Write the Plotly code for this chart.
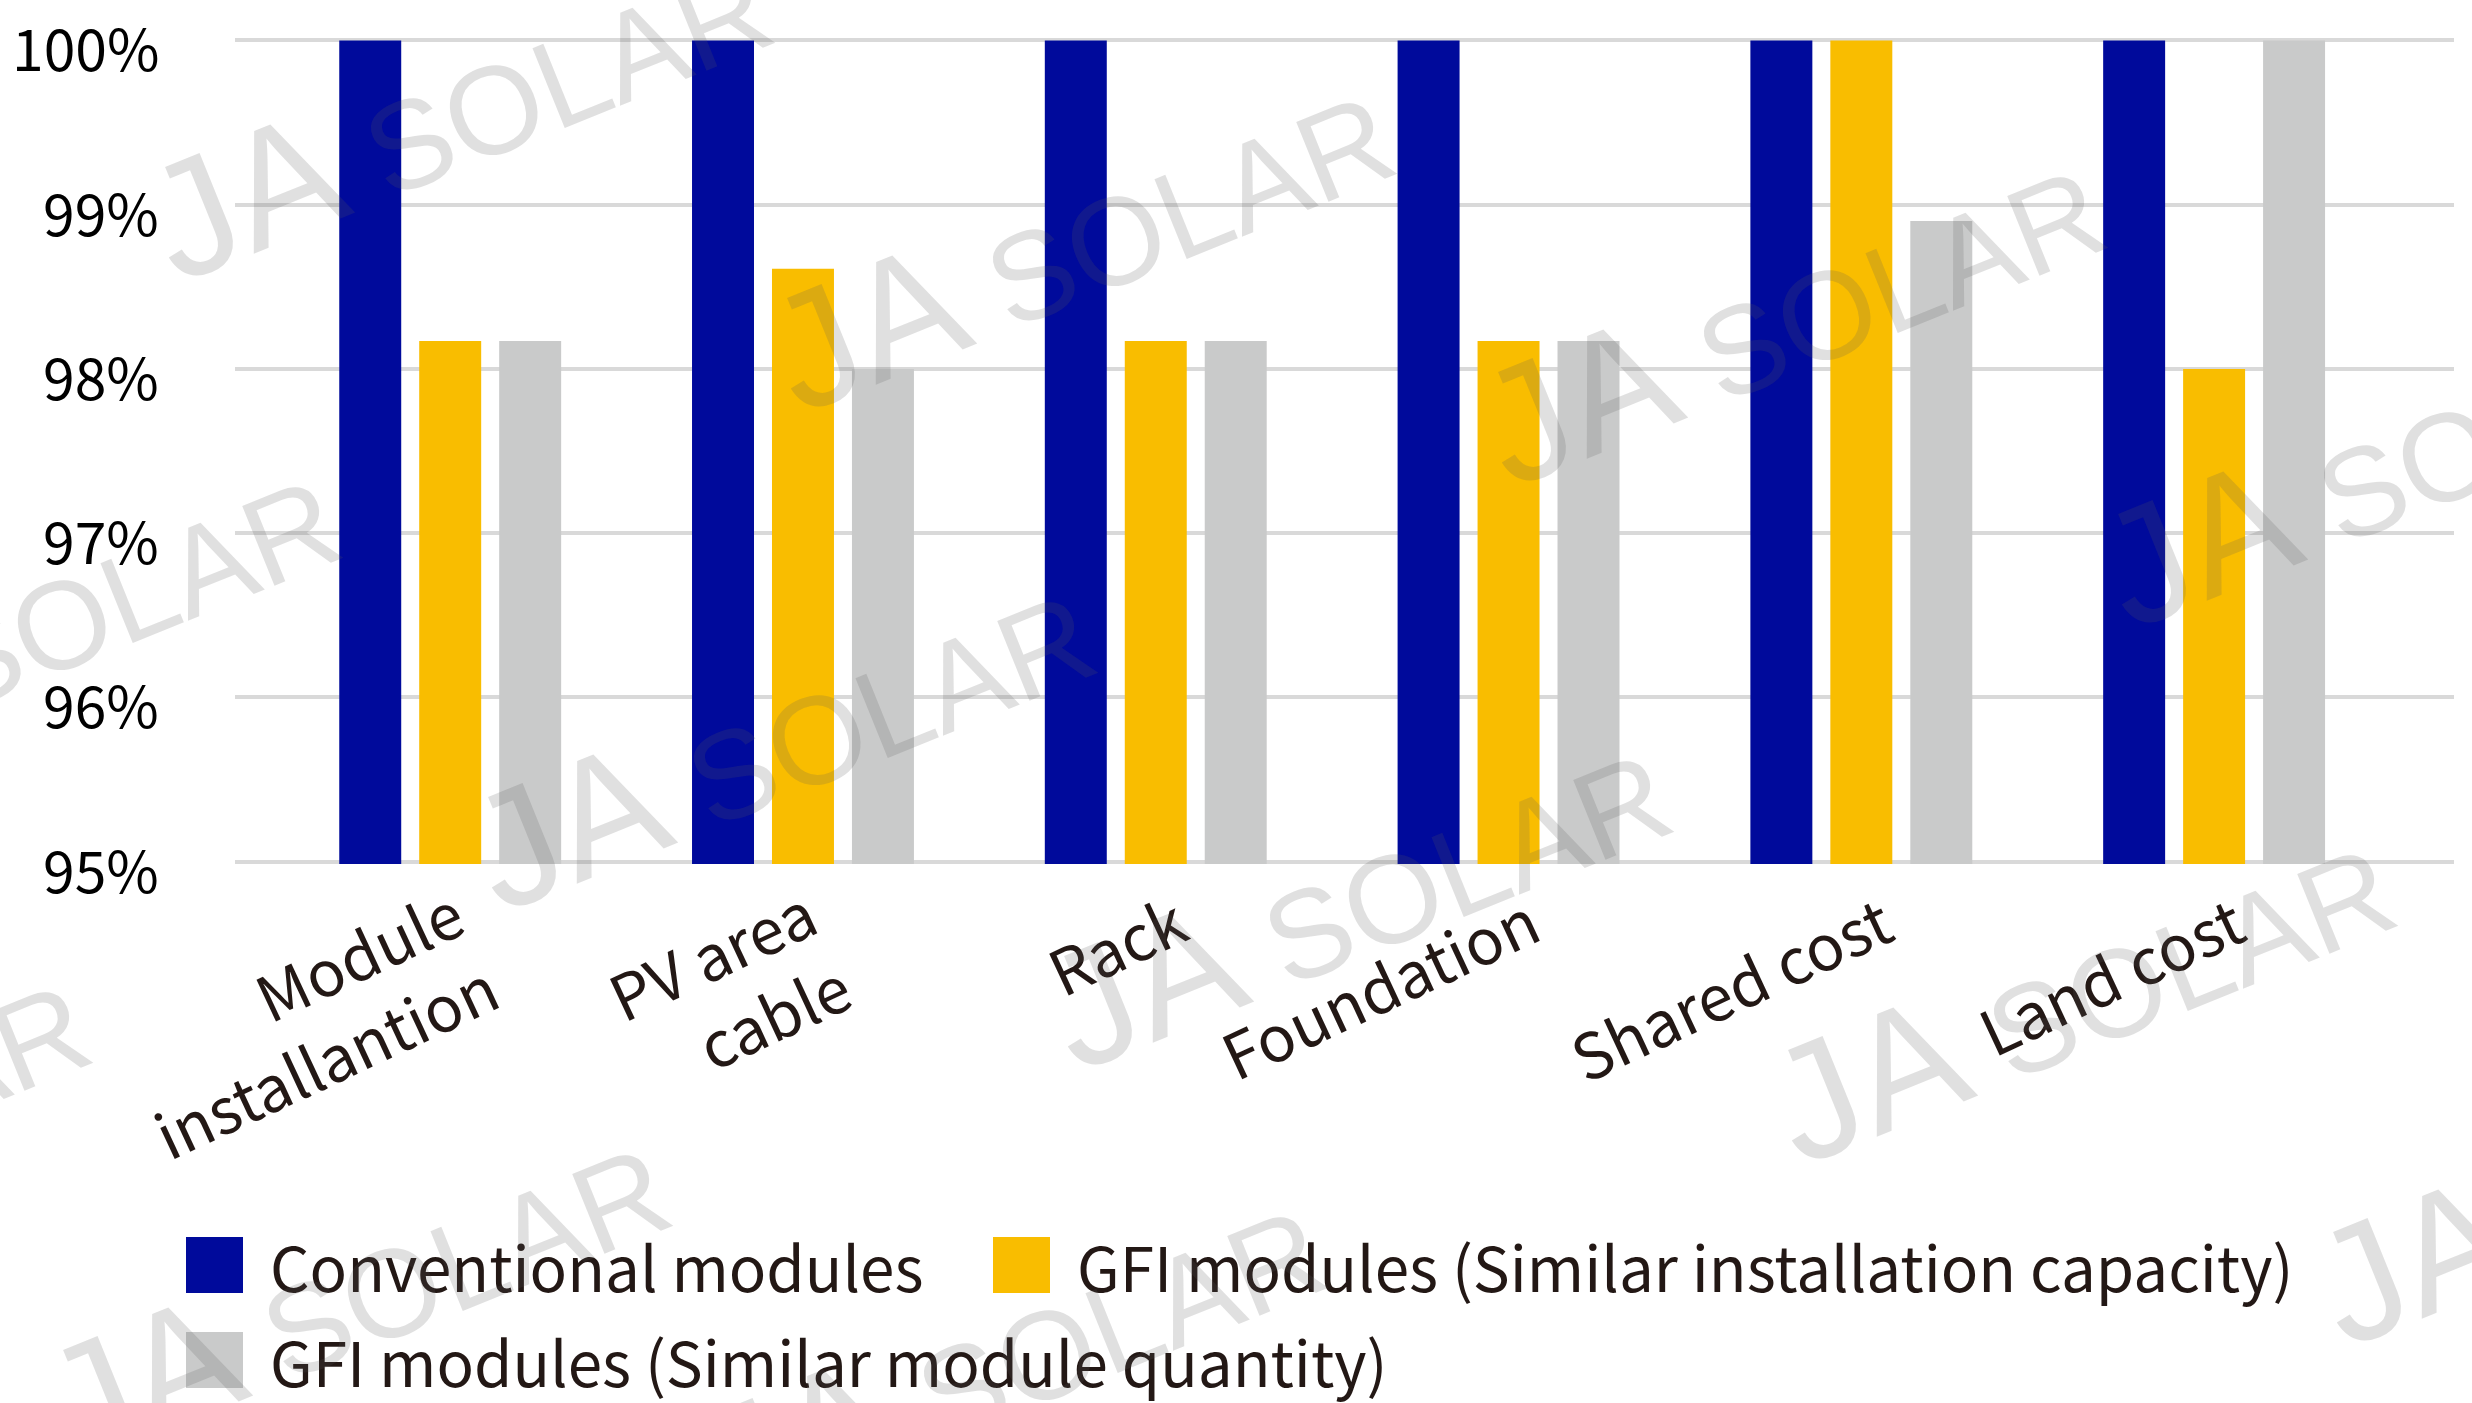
import plotly.graph_objects as go

categories = ["Module<br>installantion", "PV area<br>cable", "Rack", "Foundation", "Shared cost", "Land cost"]
series_names = [
    "Conventional modules",
    "GFI modules (Similar installation capacity)",
    "GFI modules (Similar module quantity)",
]
conventional = [100, 100, 100, 100, 100, 100]
gfi_capacity = [98.17, 98.61, 98.17, 98.17, 100, 98.0]
gfi_quantity = [98.17, 98.0, 98.17, 98.17, 98.9, 100]
y_ticks = [95, 96, 97, 98, 99, 100]
y_labels = [f"{v}%" for v in y_ticks]

colors = ["#000A9B", "#F9BD00", "#C9CACA"]
W, H = 2472, 1403
L, R, T, B = 235, 18, 38, 539
PW, PH = W - L - R, H - T - B


def px(x):
    return (x - L) / PW


def py(y):
    return (H - B - y) / PH


fig = go.Figure()
for name, vals, col in zip(series_names, [conventional, gfi_capacity, gfi_quantity], colors):
    fig.add_trace(go.Bar(x=categories, y=vals, name=name, marker_color=col,
                         marker_line_width=0, showlegend=False))

# y labels sit a little below their gridlines in the original
for v, lab in zip(y_ticks, y_labels):
    fig.add_annotation(text=lab, xref="paper", yref="y", x=px(161), y=v,
                       xanchor="right", yanchor="middle", yshift=-6, showarrow=False,
                       font=dict(size=57, color="#000000"))

# category labels as annotations (rotated, lines right-aligned)
for cat in categories:
    two_lines = "<br>" in cat
    fig.add_annotation(text=cat, xref="x", yref="paper", x=cat, y=0,
                       xanchor="right", yanchor="top",
                       xshift=64 if two_lines else 46, yshift=2 if two_lines else -6,
                       textangle=-25, showarrow=False, align="right",
                       font=dict(size=63, color="#231815"))

# legend drawn by hand (plotly caps legend symbol size)
legend_pos = [(186, 1265), (993, 1265), (186, 1360)]
for name, col, (lx, ly) in zip(series_names, colors, legend_pos):
    fig.add_shape(type="rect", xref="paper", yref="paper",
                  x0=px(lx), x1=px(lx + 57), y0=py(ly + 28), y1=py(ly - 28),
                  fillcolor=col, line_width=0)
    fig.add_annotation(text=name, xref="paper", yref="paper", x=px(lx + 82), y=py(ly),
                       xanchor="left", yanchor="middle", showarrow=False,
                       font=dict(size=62, color="#231815"))

# JA SOLAR watermark
wm = [(457, 110), (1079, 241), (1790, 315), (2410, 457), (25, 625), (780, 740),
      (1356, 899), (2080, 993), (-225, 1130), (355, 1293), (1010, 1355), (2625, 1175)]
for wx, wy in wm:
    fig.add_annotation(text="<span style='font-size:165px'>JA</span> SOLAR",
                       xref="paper", yref="paper", x=px(wx), y=py(wy),
                       xanchor="center", yanchor="middle", showarrow=False, textangle=-22,
                       font=dict(size=125, family="Liberation Sans, Arial", color="rgba(90,90,90,0.19)"))

fig.update_layout(
    width=W, height=H,
    margin=dict(l=L, r=R, t=T, b=B),
    barmode="group", bargap=0.32, bargroupgap=0.225,
    plot_bgcolor="white", paper_bgcolor="white",
    font=dict(family="Noto Sans CJK SC, Noto Sans, sans-serif", color="#231815"),
    xaxis=dict(range=[-0.61, 5.68], showticklabels=False,
               showgrid=False, showline=False, ticks=""),
    yaxis=dict(range=[94.985, 100.015], tickmode="array", tickvals=y_ticks,
               showticklabels=False, showgrid=True,
               gridcolor="#D9D9D9", gridwidth=4, zeroline=False, showline=False),
)

fig.write_html("out.html", config={"displayModeBar": False},
               post_script="document.body.style.margin='0';")
